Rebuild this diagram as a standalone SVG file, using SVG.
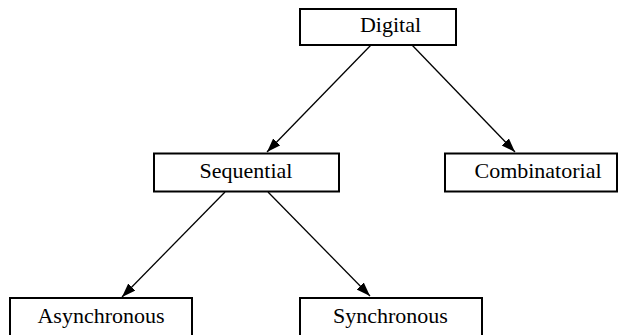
<svg xmlns="http://www.w3.org/2000/svg" width="619" height="335" viewBox="0 0 619 335">
  <style>
    .box { fill: #ffffff; stroke: #000000; stroke-width: 2; }
    .lbl { font-family: "Liberation Serif", "Times New Roman", serif; font-size: 22px; fill: #000000; text-anchor: middle; }
    .edge { stroke: #000000; stroke-width: 1.3; fill: none; marker-end: url(#arrow); }
  </style>
  <defs>
    <marker id="arrow" markerUnits="userSpaceOnUse" markerWidth="15" markerHeight="11" refX="14" refY="5" orient="auto">
      <path d="M0,0 L14,5 L0,10 z" fill="#000000"/>
    </marker>
  </defs>
  <rect width="619" height="335" fill="#ffffff"/>

  <!-- connectors -->
  <g id="edges">
    <line class="edge" x1="371" y1="45" x2="267" y2="152"/>
    <line class="edge" x1="412" y1="45" x2="515" y2="152"/>
    <line class="edge" x1="225" y1="192" x2="122" y2="297"/>
    <line class="edge" x1="268" y1="192" x2="370" y2="296"/>
  </g>

  <!-- nodes -->
  <g id="digital">
    <rect class="box" x="300" y="9" width="156" height="36"/>
    <text class="lbl" x="390.5" y="31.5">Digital</text>
  </g>
  <g id="sequential">
    <rect class="box" x="154" y="153.5" width="185" height="38"/>
    <text class="lbl" x="246" y="177.5">Sequential</text>
  </g>
  <g id="combinatorial">
    <rect class="box" x="445" y="153.5" width="172" height="38"/>
    <text class="lbl" x="538" y="177.5">Combinatorial</text>
  </g>
  <g id="asynchronous">
    <rect class="box" x="10" y="298" width="182" height="40"/>
    <text class="lbl" x="101" y="323">Asynchronous</text>
  </g>
  <g id="synchronous">
    <rect class="box" x="300" y="298" width="182" height="40"/>
    <text class="lbl" x="390.5" y="323">Synchronous</text>
  </g>
</svg>
